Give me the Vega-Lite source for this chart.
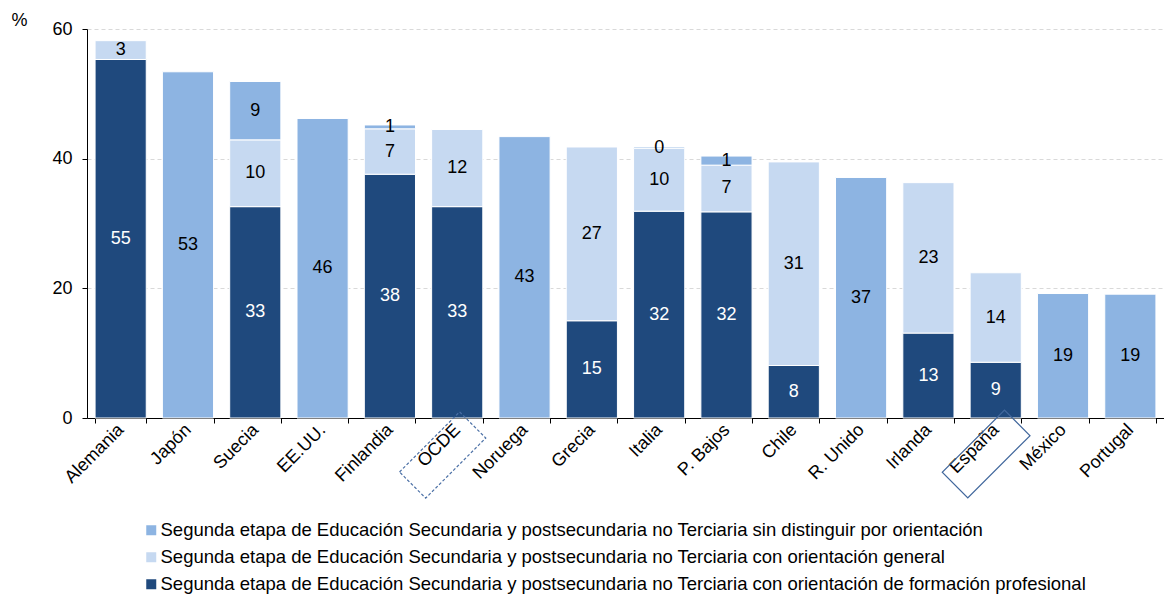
{
  "$schema": "https://vega.github.io/schema/vega-lite/v6.json",
  "width": 1077,
  "height": 389,
  "autosize": "none",
  "padding": {"left": 87, "top": 29, "right": 0, "bottom": 176},
  "background": "white",
  "config": {
    "font": "Liberation Sans",
    "view": {"stroke": null}
  },
  "datasets": {
    "bars": [
      {"pais": "Alemania", "tipo": "Segunda etapa de Educación Secundaria y postsecundaria no Terciaria con orientación de formación profesional", "k": 1, "v": 55.3},
      {"pais": "Alemania", "tipo": "Segunda etapa de Educación Secundaria y postsecundaria no Terciaria con orientación general", "k": 2, "v": 2.9},
      {"pais": "Japón", "tipo": "Segunda etapa de Educación Secundaria y postsecundaria no Terciaria sin distinguir por orientación", "k": 3, "v": 53.4},
      {"pais": "Suecia", "tipo": "Segunda etapa de Educación Secundaria y postsecundaria no Terciaria con orientación de formación profesional", "k": 1, "v": 32.6},
      {"pais": "Suecia", "tipo": "Segunda etapa de Educación Secundaria y postsecundaria no Terciaria con orientación general", "k": 2, "v": 10.3},
      {"pais": "Suecia", "tipo": "Segunda etapa de Educación Secundaria y postsecundaria no Terciaria sin distinguir por orientación", "k": 3, "v": 9.0},
      {"pais": "EE.UU.", "tipo": "Segunda etapa de Educación Secundaria y postsecundaria no Terciaria sin distinguir por orientación", "k": 3, "v": 46.2},
      {"pais": "Finlandia", "tipo": "Segunda etapa de Educación Secundaria y postsecundaria no Terciaria con orientación de formación profesional", "k": 1, "v": 37.6},
      {"pais": "Finlandia", "tipo": "Segunda etapa de Educación Secundaria y postsecundaria no Terciaria con orientación general", "k": 2, "v": 7.0},
      {"pais": "Finlandia", "tipo": "Segunda etapa de Educación Secundaria y postsecundaria no Terciaria sin distinguir por orientación", "k": 3, "v": 0.6},
      {"pais": "OCDE", "tipo": "Segunda etapa de Educación Secundaria y postsecundaria no Terciaria con orientación de formación profesional", "k": 1, "v": 32.6},
      {"pais": "OCDE", "tipo": "Segunda etapa de Educación Secundaria y postsecundaria no Terciaria con orientación general", "k": 2, "v": 11.9},
      {"pais": "Noruega", "tipo": "Segunda etapa de Educación Secundaria y postsecundaria no Terciaria sin distinguir por orientación", "k": 3, "v": 43.4},
      {"pais": "Grecia", "tipo": "Segunda etapa de Educación Secundaria y postsecundaria no Terciaria con orientación de formación profesional", "k": 1, "v": 15.0},
      {"pais": "Grecia", "tipo": "Segunda etapa de Educación Secundaria y postsecundaria no Terciaria con orientación general", "k": 2, "v": 26.8},
      {"pais": "Italia", "tipo": "Segunda etapa de Educación Secundaria y postsecundaria no Terciaria con orientación de formación profesional", "k": 1, "v": 31.9},
      {"pais": "Italia", "tipo": "Segunda etapa de Educación Secundaria y postsecundaria no Terciaria con orientación general", "k": 2, "v": 9.7},
      {"pais": "Italia", "tipo": "Segunda etapa de Educación Secundaria y postsecundaria no Terciaria sin distinguir por orientación", "k": 3, "v": 0.2},
      {"pais": "P. Bajos", "tipo": "Segunda etapa de Educación Secundaria y postsecundaria no Terciaria con orientación de formación profesional", "k": 1, "v": 31.8},
      {"pais": "P. Bajos", "tipo": "Segunda etapa de Educación Secundaria y postsecundaria no Terciaria con orientación general", "k": 2, "v": 7.2},
      {"pais": "P. Bajos", "tipo": "Segunda etapa de Educación Secundaria y postsecundaria no Terciaria sin distinguir por orientación", "k": 3, "v": 1.4},
      {"pais": "Chile", "tipo": "Segunda etapa de Educación Secundaria y postsecundaria no Terciaria con orientación de formación profesional", "k": 1, "v": 8.1},
      {"pais": "Chile", "tipo": "Segunda etapa de Educación Secundaria y postsecundaria no Terciaria con orientación general", "k": 2, "v": 31.4},
      {"pais": "R. Unido", "tipo": "Segunda etapa de Educación Secundaria y postsecundaria no Terciaria sin distinguir por orientación", "k": 3, "v": 37.1},
      {"pais": "Irlanda", "tipo": "Segunda etapa de Educación Secundaria y postsecundaria no Terciaria con orientación de formación profesional", "k": 1, "v": 13.1},
      {"pais": "Irlanda", "tipo": "Segunda etapa de Educación Secundaria y postsecundaria no Terciaria con orientación general", "k": 2, "v": 23.2},
      {"pais": "España", "tipo": "Segunda etapa de Educación Secundaria y postsecundaria no Terciaria con orientación de formación profesional", "k": 1, "v": 8.6},
      {"pais": "España", "tipo": "Segunda etapa de Educación Secundaria y postsecundaria no Terciaria con orientación general", "k": 2, "v": 13.8},
      {"pais": "México", "tipo": "Segunda etapa de Educación Secundaria y postsecundaria no Terciaria sin distinguir por orientación", "k": 3, "v": 19.2},
      {"pais": "Portugal", "tipo": "Segunda etapa de Educación Secundaria y postsecundaria no Terciaria sin distinguir por orientación", "k": 3, "v": 19.1}
    ],
    "marcas": [
      {"pais": "OCDE"},
      {"pais": "España"}
    ]
  },
  "encoding": {
    "x": {
      "field": "pais",
      "type": "nominal",
      "sort": ["Alemania", "Japón", "Suecia", "EE.UU.", "Finlandia", "OCDE", "Noruega", "Grecia", "Italia", "P. Bajos", "Chile", "R. Unido", "Irlanda", "España", "México", "Portugal"],
      "scale": {"paddingInner": 0.24, "paddingOuter": 0.12},
      "axis": {
        "title": null,
        "labelAngle": -45,
        "labelAlign": "right",
        "labelBaseline": "middle",
        "labelFontSize": 18,
        "labelColor": "black",
        "labelPadding": 4,
        "labelDx": 5,
        "domainColor": "black",
        "tickColor": "black",
        "tickSize": 5,
        "tickBand": "extent",
        "grid": false
      }
    }
  },
  "layer": [
    {
      "data": {"name": "bars"},
      "mark": {"type": "bar", "stroke": "white", "strokeWidth": 1},
      "encoding": {
        "y": {
          "field": "v",
          "type": "quantitative",
          "stack": "zero",
          "scale": {"domain": [0, 60], "nice": false},
          "axis": {
            "values": [0, 20, 40, 60],
            "title": "%",
            "titleAngle": 0,
            "titleX": -76,
            "titleY": 0,
            "titleAlign": "left",
            "titleBaseline": "bottom",
            "titleFontSize": 18,
            "titleFontWeight": "normal",
            "titleColor": "black",
            "labelFontSize": 18,
            "labelColor": "black",
            "labelPadding": 10,
            "domainColor": "black",
            "tickColor": "black",
            "tickSize": 5,
            "gridColor": "#d9d9d9",
            "gridDash": [4, 3]
          }
        },
        "color": {
          "field": "tipo",
          "type": "nominal",
          "scale": {
            "domain": [
              "Segunda etapa de Educación Secundaria y postsecundaria no Terciaria sin distinguir por orientación",
              "Segunda etapa de Educación Secundaria y postsecundaria no Terciaria con orientación general",
              "Segunda etapa de Educación Secundaria y postsecundaria no Terciaria con orientación de formación profesional"
            ],
            "range": ["#8db4e2", "#c6d9f1", "#1f497d"]
          },
          "legend": {
            "title": null,
            "orient": "none",
            "legendX": 55,
            "legendY": 492,
            "direction": "vertical",
            "symbolType": "square",
            "symbolSize": 100,
            "symbolStrokeWidth": 0,
            "labelFontSize": 18.5,
            "labelColor": "black",
            "labelLimit": 0,
            "rowPadding": 8,
            "labelOffset": 0
          }
        },
        "order": {"field": "k", "type": "quantitative"}
      }
    },
    {
      "data": {"name": "bars"},
      "mark": {"type": "text", "fontSize": 18, "baseline": "middle"},
      "encoding": {
        "y": {"field": "v", "type": "quantitative", "stack": "zero", "bandPosition": 0.5},
        "order": {"field": "k", "type": "quantitative"},
        "detail": {"field": "tipo"},
        "text": {"field": "v", "type": "quantitative", "format": ".0f"},
        "color": {
          "condition": {"test": "datum.k == 1", "value": "white"},
          "value": "black"
        }
      }
    },
    {
      "data": {"name": "marcas"},
      "transform": [{"filter": "datum.pais == 'OCDE'"}],
      "mark": {
        "type": "point",
        "shape": "M-1,-0.435L1,-0.435L1,0.435L-1,0.435Z",
        "size": 7225,
        "filled": false,
        "angle": 315,
        "stroke": "#4a6fa5",
        "strokeWidth": 1.2,
        "strokeDash": [3, 2],
        "opacity": 1
      },
      "encoding": {
        "y": {"datum": 0},
        "yOffset": {"value": 37},
        "xOffset": {"value": 11}
      }
    },
    {
      "data": {"name": "marcas"},
      "transform": [{"filter": "datum.pais == 'España'"}],
      "mark": {
        "type": "point",
        "shape": "M-1,-0.41L1,-0.41L1,0.41L-1,0.41Z",
        "size": 7744,
        "filled": false,
        "angle": 315,
        "stroke": "#41679c",
        "strokeWidth": 1.2,
        "opacity": 1
      },
      "encoding": {
        "y": {"datum": 0},
        "yOffset": {"value": 36},
        "xOffset": {"value": 16}
      }
    }
  ]
}
